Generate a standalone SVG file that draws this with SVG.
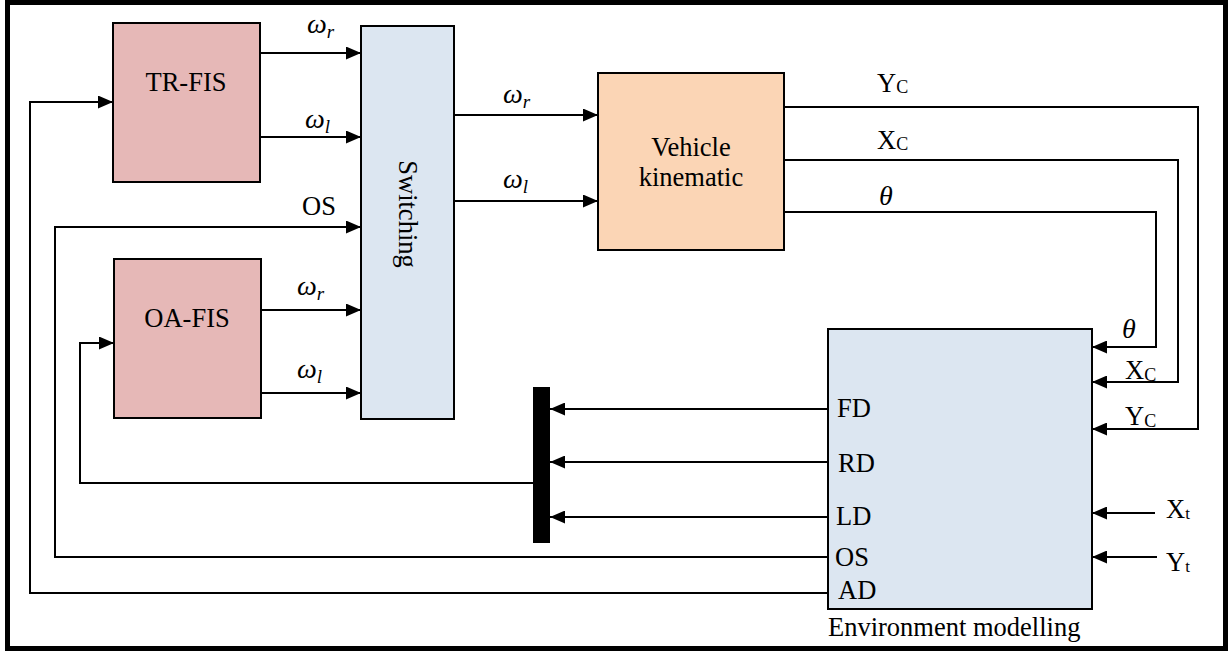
<svg xmlns="http://www.w3.org/2000/svg" width="1231" height="652" viewBox="0 0 1231 652">
<style>
.t{font-family:"Liberation Serif","Times New Roman",serif;font-size:26.5px;fill:#000}
.m{font-family:"Liberation Serif","Times New Roman",serif;font-style:italic;font-size:28px;fill:#000}
.c{fill:none;stroke:#000;stroke-width:2}
.box{stroke:#000;stroke-width:2}
</style>
<defs>
<marker id="ah" markerUnits="userSpaceOnUse" markerWidth="15" markerHeight="13" refX="15" refY="6.5" orient="auto">
<path d="M0,0 L15,6.5 L0,13 z" fill="#000"/>
</marker>
</defs>
<rect x="0" y="0" width="1231" height="652" fill="#fff"/>
<rect x="7.5" y="2.5" width="1218" height="646" fill="none" stroke="#000" stroke-width="5"/>

<g id="tr-fis">
<rect class="box" x="113" y="23" width="147" height="159" fill="#E6B8B7"/>
<text class="t" x="186" y="91" text-anchor="middle">TR-FIS</text>
</g>
<g id="oa-fis">
<rect class="box" x="114" y="259" width="147" height="159" fill="#E6B8B7"/>
<text class="t" x="187" y="327" text-anchor="middle">OA-FIS</text>
</g>
<g id="switching">
<rect class="box" x="361" y="26" width="93" height="393" fill="#DCE6F1"/>
<text class="t" transform="translate(399,214) rotate(90)" text-anchor="middle">Switching</text>
</g>
<g id="vehicle">
<rect class="box" x="598" y="73" width="186" height="177" fill="#FBD5B5"/>
<text class="t" x="691" y="156" text-anchor="middle">Vehicle</text>
<text class="t" x="691" y="186" text-anchor="middle">kinematic</text>
</g>
<g id="environment">
<rect class="box" x="828" y="329" width="264" height="280" fill="#DCE6F1"/>
<text class="t" x="837" y="417">FD</text>
<text class="t" x="838" y="472">RD</text>
<text class="t" x="836" y="525">LD</text>
<text class="t" x="835" y="566">OS</text>
<text class="t" x="838" y="599">AD</text>
<text class="t" x="828" y="636">Environment modelling</text>
</g>
<g id="mux">
<rect x="533" y="387" width="17" height="156" fill="#000"/>
</g>

<g id="connectors">
<path class="c" d="M260,53 H361" marker-end="url(#ah)"/>
<path class="c" d="M260,137 H361" marker-end="url(#ah)"/>
<path class="c" d="M828,593 H30 V102 H113" marker-end="url(#ah)"/>
<path class="c" d="M828,557 H55 V227 H361" marker-end="url(#ah)"/>
<path class="c" d="M533,483 H80 V343 H114" marker-end="url(#ah)"/>
<path class="c" d="M261,310 H361" marker-end="url(#ah)"/>
<path class="c" d="M261,393 H361" marker-end="url(#ah)"/>
<path class="c" d="M454,115 H598" marker-end="url(#ah)"/>
<path class="c" d="M454,201 H598" marker-end="url(#ah)"/>
<path class="c" d="M784,107 H1198 V429 H1092" marker-end="url(#ah)"/>
<path class="c" d="M784,160 H1178 V382 H1092" marker-end="url(#ah)"/>
<path class="c" d="M784,212 H1156 V347 H1092" marker-end="url(#ah)"/>
<path class="c" d="M828,409 H550" marker-end="url(#ah)"/>
<path class="c" d="M828,462 H550" marker-end="url(#ah)"/>
<path class="c" d="M828,517 H550" marker-end="url(#ah)"/>
<path class="c" d="M1155,513 H1092" marker-end="url(#ah)"/>
<path class="c" d="M1157,557 H1092" marker-end="url(#ah)"/>

<text class="m" x="307" y="33">ω<tspan font-size="19" dy="5">r</tspan></text>
<text class="m" x="305" y="128">ω<tspan font-size="19" dy="5">l</tspan></text>
<text class="t" x="302" y="215">OS</text>
<text class="m" x="297" y="295">ω<tspan font-size="19" dy="5">r</tspan></text>
<text class="m" x="297" y="378">ω<tspan font-size="19" dy="5">l</tspan></text>
<text class="m" x="503" y="103">ω<tspan font-size="19" dy="5">r</tspan></text>
<text class="m" x="503" y="188">ω<tspan font-size="19" dy="5">l</tspan></text>
<text class="t" x="877" y="92">Y<tspan font-size="18" dy="1">C</tspan></text>
<text class="t" x="877" y="149">X<tspan font-size="18" dy="1">C</tspan></text>
<text class="m" x="879" y="205">θ</text>
<text class="m" x="1122" y="338">θ</text>
<text class="t" x="1125" y="379">X<tspan font-size="18" dy="2">C</tspan></text>
<text class="t" x="1125" y="425">Y<tspan font-size="18" dy="2">C</tspan></text>
<text class="t" x="1166" y="518">X<tspan font-size="17" dy="1">t</tspan></text>
<text class="t" x="1166" y="571">Y<tspan font-size="17" dy="1">t</tspan></text>
</g>
</svg>
